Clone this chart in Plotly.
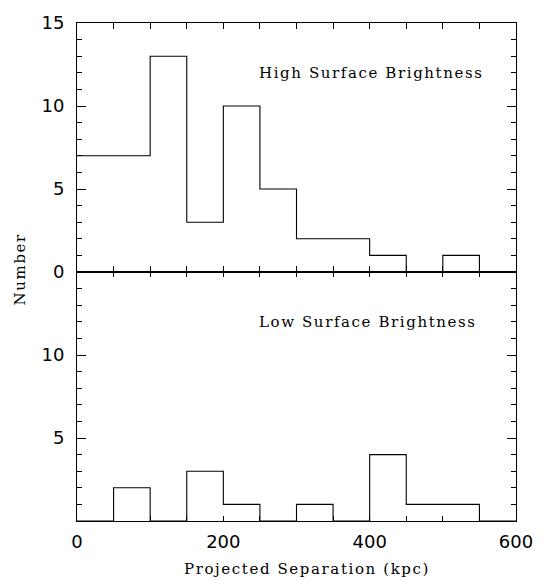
import numpy as np
import plotly.graph_objects as go

# Bin edges (kpc) and counts per 50 kpc bin
bin_edges = [0, 50, 100, 150, 200, 250, 300, 350, 400, 450, 500, 550, 600]
high_sb_counts = [7, 7, 13, 3, 10, 5, 2, 2, 1, 0, 1, 0]
low_sb_counts = [0, 2, 0, 3, 1, 0, 1, 0, 4, 1, 1, 0]

x_tick_vals = [0, 50, 100, 150, 200, 250, 300, 350, 400, 450, 500, 550, 600]
x_tick_text = ["0", "", "", "", "200", "", "", "", "400", "", "", "", "600"]
top_y_ticks = [0, 5, 10, 15]
bottom_y_ticks = [5, 10]

panel_labels = ["High Surface Brightness", "Low Surface Brightness"]
x_title = "Projected Separation (kpc)"
y_title = "Number"

W, H = 545, 581
L, R, T, B = 77, 26, 21, 60
plot_w = W - L - R
plot_h = H - T - B

LABEL_FONT = dict(family="DejaVu Serif, serif", size=15, color="black")
TICK_FONT = dict(family="DejaVu Sans, sans-serif", size=18, color="black")


def spaced(text):
    # typewriter-like letter spacing for the labels
    return '<span style="letter-spacing:1.6px">' + text + '</span>'


def step_y(counts):
    # repeat the last value so the 'hv' step covers the final bin
    return list(counts) + [counts[-1]]


fig = go.Figure()
fig.add_trace(go.Scatter(x=bin_edges, y=step_y(high_sb_counts), mode="lines",
                         line=dict(color="black", width=1.1, shape="hv"),
                         xaxis="x", yaxis="y", showlegend=False, hoverinfo="skip"))
fig.add_trace(go.Scatter(x=bin_edges, y=step_y(low_sb_counts), mode="lines",
                         line=dict(color="black", width=1.1, shape="hv"),
                         xaxis="x2", yaxis="y2", showlegend=False, hoverinfo="skip"))

common_x = dict(range=[0, 600], showgrid=False, zeroline=False, showline=True,
                linecolor="black", linewidth=1.1, mirror="ticks", ticks="inside",
                tickcolor="black", tickwidth=1.1, tickmode="array", tickvals=x_tick_vals)
common_y = dict(range=[0, 15], showgrid=False, zeroline=False, showline=True,
                linecolor="black", linewidth=1.1, mirror="ticks", ticks="inside",
                tickcolor="black", tickwidth=1.1, ticklen=9, tickmode="array",
                tickfont=TICK_FONT, ticklabelstandoff=8,
                minor=dict(ticks="inside", tickmode="linear", tick0=0, dtick=1,
                           ticklen=5, tickcolor="black", tickwidth=1.1))

fig.update_layout(
    width=W, height=H,
    margin=dict(l=L, r=R, t=T, b=B),
    paper_bgcolor="white", plot_bgcolor="white",
    xaxis=dict(common_x, anchor="y", ticklen=6, showticklabels=False),
    yaxis=dict(common_y, domain=[0.5, 1], anchor="x", tickvals=top_y_ticks,
               ticktext=[str(v) for v in top_y_ticks]),
    xaxis2=dict(common_x, anchor="y2", ticklen=5, ticktext=x_tick_text,
                tickfont=TICK_FONT, ticklabelstandoff=4),
    yaxis2=dict(common_y, domain=[0, 0.5], anchor="x2", tickvals=bottom_y_ticks,
                ticktext=[str(v) for v in bottom_y_ticks]),
)


def px_to_paper(px, py):
    return (px - L) / plot_w, (H - B - py) / plot_h


annotations = []
for label, (px, py) in zip(panel_labels, [(374, 71), (370, 321)]):
    ax, ay = px_to_paper(px, py)
    annotations.append(dict(text=spaced(label), x=ax, y=ay, xref="paper", yref="paper",
                            xanchor="center", yanchor="middle", showarrow=False,
                            font=LABEL_FONT))
ax, ay = px_to_paper(309, 569)
annotations.append(dict(text=spaced(x_title), x=ax, y=ay, xref="paper", yref="paper",
                        xanchor="center", yanchor="middle", showarrow=False,
                        font=LABEL_FONT))
ax, ay = px_to_paper(20, 268)
annotations.append(dict(text=spaced(y_title), x=ax, y=ay, xref="paper", yref="paper",
                        xanchor="center", yanchor="middle", showarrow=False,
                        textangle=-90, font=LABEL_FONT))
fig.update_layout(annotations=annotations)

fig.write_html("out.html")
